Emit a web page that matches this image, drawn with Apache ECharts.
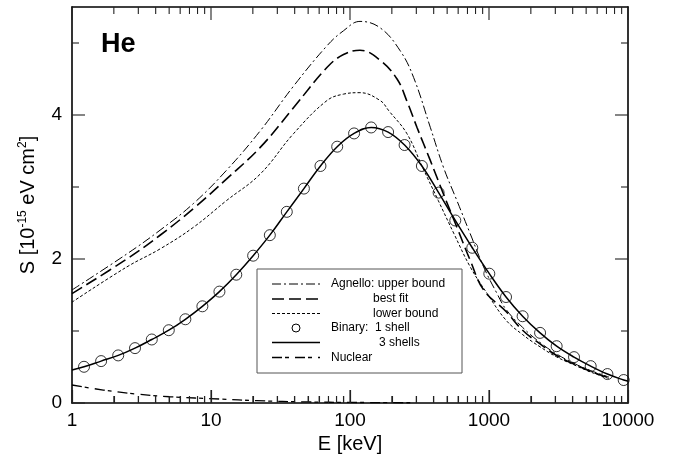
<!DOCTYPE html>
<html>
<head>
<meta charset="utf-8">
<script src="https://cdn.jsdelivr.net/npm/echarts@6/dist/echarts.min.js"></script>
<style>html,body{margin:0;padding:0;background:#fff}#c{width:674px;height:466px}</style>
</head>
<body>
<div id="c"></div>
<script>
// ---- data ----
const binaryE = [1.22,1.62,2.15,2.84,3.75,4.97,6.54,8.67,11.5,15.2,20.1,26.5,35.1,46.6,61.3,80.9,107,142,188,247,329,434,572,758,1005,1326,1745,2330,3067,4090,5390,7110,9310];
const binary1Shell = [0.503,0.582,0.661,0.762,0.882,1.011,1.163,1.343,1.547,1.782,2.046,2.331,2.655,2.978,3.292,3.560,3.744,3.827,3.763,3.583,3.292,2.922,2.535,2.156,1.796,1.472,1.205,0.974,0.789,0.637,0.512,0.402,0.319];
const shells3E = [1,1.22,1.62,2.15,2.84,3.75,4.97,6.54,8.67,11.5,15.2,20.1,26.5,35.1,46.6,61.3,80.9,107,142,188,247,329,434,572,758,1005,1326,1745,2330,3067,4090,5390,7110,9310,10000];
const binary3Shells = [0.457,0.503,0.582,0.661,0.762,0.882,1.011,1.163,1.343,1.547,1.782,2.046,2.331,2.655,2.978,3.292,3.560,3.744,3.827,3.763,3.583,3.292,2.922,2.535,2.156,1.796,1.472,1.205,0.974,0.789,0.637,0.512,0.402,0.319,0.302];

const upperE = [1,2.48,4.3,7.47,12.9,22.6,39.2,68.2,89.8,118,165,230,287,378,471,588,733,915,1142,1326,1745,2330,3067,4090,5390,7300];
const upperS = [1.57,2.07,2.40,2.77,3.23,3.78,4.40,4.96,5.17,5.30,5.21,4.89,4.52,3.83,3.27,2.81,2.35,1.89,1.52,1.30,1.05,0.84,0.68,0.55,0.45,0.36];
const bestE = [1,2.48,4.3,7.47,12.9,22.6,39.2,68.2,89.8,118,165,218,257,303,378,471,588,733,915,1326,1745,2330,3067,4090,5390,7300];
const bestS = [1.52,2.00,2.33,2.70,3.11,3.55,4.10,4.66,4.84,4.90,4.76,4.50,4.19,3.83,3.37,2.90,2.44,1.98,1.57,1.27,1.01,0.82,0.66,0.54,0.44,0.35];
const lowerE = [1,2.48,4.3,7.47,12.9,22.6,39.2,68.2,89.8,118,165,190,257,333,432,560,733,970,1326,1745,2330,3067,4090,5390,7300];
const lowerS = [1.40,1.89,2.14,2.44,2.81,3.18,3.74,4.20,4.29,4.31,4.20,4.06,3.74,3.27,2.81,2.35,1.89,1.52,1.15,0.95,0.78,0.64,0.53,0.43,0.34];
const nuclearE = [1,1.68,2.9,5.07,11.6,21.3,50,100,300];
const nuclearS = [0.25,0.18,0.125,0.087,0.055,0.032,0.015,0.008,0.003];

const xTicks = [1,10,100,1000,10000];
const xTickLabels = ['1','10','100','1000','10000'];
const xMinorTicks = [2,3,4,5,6,7,8,9,20,30,40,50,60,70,80,90,200,300,400,500,600,700,800,900,2000,3000,4000,5000,6000,7000,8000,9000];
const yTicks = [0,2,4];
const yTickLabels = ['0','2','4'];
const yMinorTicks = [1,3,5];

const legendLabels = ['Agnello: upper bound','best fit','lower bound','Binary:  1 shell','3 shells','Nuclear'];
const panelTitle = 'He';

// ---- chart ----
const FONT = '"Liberation Sans", Arial, sans-serif';
const X_MIN = 1, X_MAX = 10000, Y_MAX = 5.5;
const zip = (a,b) => a.map((v,i)=>[v,b[i]]);
const chart = echarts.init(document.getElementById('c'));

const axisLine = {show:true, lineStyle:{color:'#000', width:1.6}};
const MAJOR = 13, MINOR = 7;
const TICK = '#222';

const legX0 = 257, legY0 = 269, legW = 205, legH = 104;
const rowY = [284, 299, 313.5, 328, 342.5, 357.5];
const textX = [331, 373, 373, 331, 379, 331];
const lx1 = 272, lx2 = 320;
const dashes = [[9,3,2,3],[12,5],[3,2],null,null,[10,3,4,6]];
const widths = [1,1.6,1,0,1.5,1.3];

const graphic = [
  {type:'text', left:101, top:31, style:{text:panelTitle, font:'bold 27px '+FONT, fill:'#000'}},
  {type:'rect', shape:{x:legX0,y:legY0,width:legW,height:legH}, style:{fill:'#fff', stroke:'#555', lineWidth:1}, z:100}
];
legendLabels.forEach((t,i)=>{
  graphic.push({type:'text', x:textX[i], y:rowY[i], style:{text:t, font:'12px '+FONT, fill:'#000', textVerticalAlign:'middle'}, z:101});
  if (i===3) {
    graphic.push({type:'circle', shape:{cx:(lx1+lx2)/2, cy:rowY[i], r:4}, style:{fill:'none', stroke:'#000', lineWidth:1}, z:101});
  } else {
    graphic.push({type:'line', shape:{x1:lx1,y1:rowY[i],x2:lx2,y2:rowY[i]}, style:{stroke:'#000', lineWidth:widths[i], lineDash:dashes[i]||null}, z:101});
  }
});

// tick items
const xAllTicks = xTicks.map(v=>[v,1,MAJOR]).concat(xMinorTicks.map(v=>[v,1,MINOR]));
const yTickItems = [];
yTicks.forEach(v=>{ yTickItems.push([X_MIN,v,MAJOR,0]); yTickItems.push([X_MIN,v,MAJOR,1]); });
yMinorTicks.forEach(v=>{ yTickItems.push([X_MIN,v,MINOR,0]); yTickItems.push([X_MIN,v,MINOR,1]); });

function xTopRender(params, api){
  const c = api.coord([api.value(0), Y_MAX]);
  const len = api.value(2);
  return {type:'line', shape:{x1:c[0], y1:c[1], x2:c[0], y2:c[1]+len}, style:{stroke:TICK, lineWidth:1.1}};
}
function xBottomRender(params, api){
  const c = api.coord([api.value(0), 0]);
  const len = api.value(2);
  return {type:'rect', shape:{x:c[0]-0.55, y:c[1]-len, width:1.1, height:len}, style:{fill:TICK}};
}
function yTickRender(params, api){
  const v = api.value(1), len = api.value(2), side = api.value(3);
  const cl = api.coord([X_MIN,v]), cr = api.coord([X_MAX,v]);
  const x0 = side === 0 ? cl[0] : cr[0];
  const x1 = side === 0 ? x0 + len : x0 - len;
  return {type:'line', shape:{x1:x0, y1:cl[1], x2:x1, y2:cl[1]}, style:{stroke:TICK, lineWidth:1.1}};
}

// bottom ticks also as mark lines (length expressed in S units of the same axis scale)
const pxPerUnit = 396 / Y_MAX;
const bottomMarkLines = xTicks.map(v=>[v,MAJOR]).concat(xMinorTicks.map(v=>[v,MINOR]))
  .map(([v,len])=>[{coord:[v,0]},{coord:[v,len/pxPerUnit]}]);

const option = {
  animation:false,
  textStyle:{fontFamily:FONT},
  grid:{left:72, right:46, top:7, bottom:63, outerBoundsMode:'none'},
  xAxis:[
    {type:'log', logBase:10, min:X_MIN, max:X_MAX, splitNumber:4, position:'bottom',
     axisLine, splitLine:{show:false},
     axisTick:{show:true, inside:true, length:MAJOR, lineStyle:{color:TICK, width:1.1}},
     axisLabel:{show:true, margin:8, color:'#000', fontSize:19, fontFamily:FONT,
       formatter:(v)=>{const i = xTicks.findIndex(t=>Math.abs(Math.log10(t)-Math.log10(v))<1e-6); return i>=0?xTickLabels[i]:'';}},
     name:'E [keV]', nameLocation:'middle', nameGap:28,
     nameTextStyle:{color:'#000', fontSize:20, fontFamily:FONT}},
    {type:'log', logBase:10, min:X_MIN, max:X_MAX, splitNumber:4, position:'top',
     axisLine:{show:true, onZero:false, lineStyle:{color:'#000', width:1.6}},
     splitLine:{show:false}, axisTick:{show:false}, axisLabel:{show:false}}
  ],
  yAxis:[
    {type:'value', min:0, max:Y_MAX, interval:2, position:'left',
     axisLine, splitLine:{show:false}, axisTick:{show:false},
     axisLabel:{show:true, margin:10, color:'#000', fontSize:19, fontFamily:FONT, showMaxLabel:false,
       formatter:(v)=>{const i = yTicks.indexOf(v); return i>=0?yTickLabels[i]:'';}},
     name:'S [10{sup|-15} eV cm{sup|2}]', nameLocation:'middle', nameGap:30, nameRotate:90,
     nameTextStyle:{color:'#000', fontSize:20, fontFamily:FONT, lineHeight:24,
       rich:{sup:{fontSize:12, fontFamily:FONT, verticalAlign:'top', lineHeight:24, color:'#000'}}}},
    {type:'value', min:0, max:Y_MAX, interval:2, position:'right',
     axisLine, splitLine:{show:false}, axisTick:{show:false}, axisLabel:{show:false}}
  ],
  graphic,
  series:[
    {name:'upper', type:'line', data:zip(upperE,upperS), smooth:0.4, showSymbol:false, symbol:'none',
     lineStyle:{color:'#000', width:1, type:[9,3,2,3]}, z:3},
    {name:'best', type:'line', data:zip(bestE,bestS), smooth:0.4, showSymbol:false, symbol:'none',
     lineStyle:{color:'#000', width:1.6, type:[12,5]}, z:3},
    {name:'lower', type:'line', data:zip(lowerE,lowerS), smooth:0.4, showSymbol:false, symbol:'none',
     lineStyle:{color:'#000', width:1, type:[3,2]}, z:3},
    {name:'3 shells', type:'line', data:zip(shells3E,binary3Shells), smooth:0.4, showSymbol:false, symbol:'none',
     lineStyle:{color:'#000', width:1.5}, z:3},
    {name:'1 shell', type:'scatter', data:zip(binaryE,binary1Shell), symbol:'circle', symbolSize:11,
     itemStyle:{color:'rgba(0,0,0,0)', borderColor:'#000', borderWidth:1}, z:4},
    {name:'Nuclear', type:'line', data:zip(nuclearE,nuclearS), smooth:0.4, showSymbol:false, symbol:'none',
     lineStyle:{color:'#000', width:1.3, type:[10,3,4,6]}, z:3,
     markLine:{silent:true, symbol:['none','none'], label:{show:false}, animation:false,
       lineStyle:{color:TICK, width:1.1, type:'solid'}, emphasis:{disabled:true},
       data: bottomMarkLines}},
    {type:'custom', name:'xticksTop', xAxisIndex:0, yAxisIndex:0, silent:true, clip:false, z:50,
     data: xAllTicks, encode:{x:0, y:1}, renderItem: xTopRender},
    {type:'custom', name:'xticksBottom', xAxisIndex:0, yAxisIndex:0, silent:true, clip:false, z:50,
     data: xAllTicks, encode:{x:0, y:1}, renderItem: xBottomRender},
    {type:'custom', name:'yticks', xAxisIndex:0, yAxisIndex:0, silent:true, clip:false, z:50,
     data: yTickItems, encode:{x:0, y:1}, renderItem: yTickRender}
  ]
};
chart.setOption(option);
</script>
</body>
</html>
